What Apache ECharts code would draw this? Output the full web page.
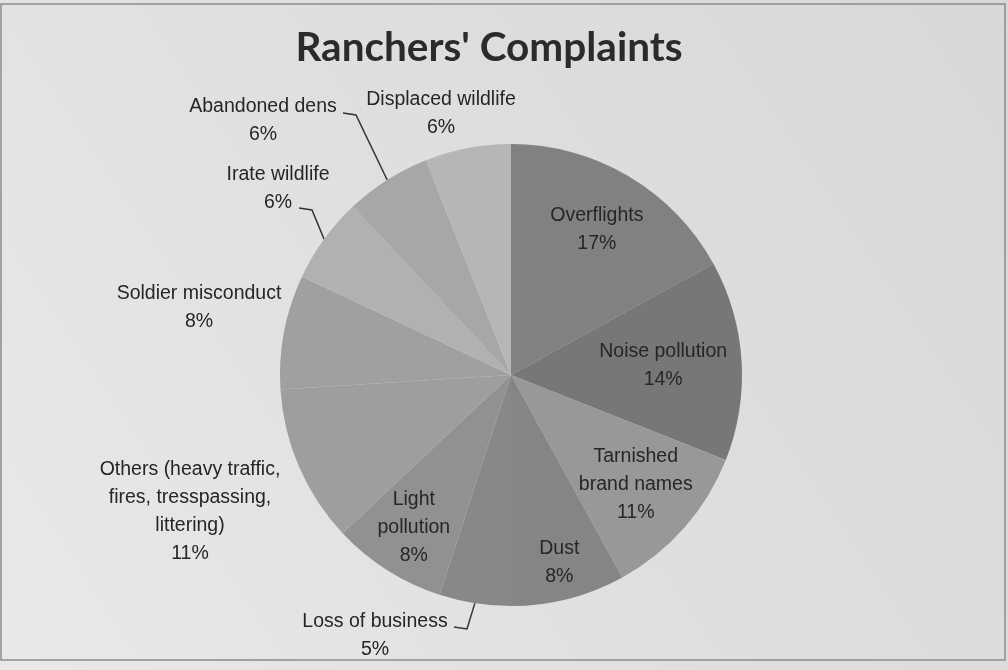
<!DOCTYPE html>
<html>
<head>
<meta charset="utf-8">
<script src="https://cdn.jsdelivr.net/npm/echarts@6/dist/echarts.min.js"></script>
<style>
  html, body { margin: 0; padding: 0; background: #e2e2e2; }
  #chart { width: 1008px; height: 670px; }
</style>
</head>
<body>
<div id="chart"></div>
<script>
// Complaint categories, clockwise from twelve o'clock
const categories = [
  'Overflights',
  'Noise pollution',
  'Tarnished\nbrand names',
  'Dust',
  'Loss of business',
  'Light\npollution',
  'Others (heavy traffic,\nfires, tresspassing,\nlittering)',
  'Soldier misconduct',
  'Irate wildlife',
  'Abandoned dens',
  'Displaced wildlife'
];
// Share of complaints, percent
const shares = [17, 14, 11, 8, 5, 8, 11, 8, 6, 6, 6];

// Grey shades of the slices
const sliceColors = ['#818181', '#777777', '#989898', '#858585', '#888888', '#919191',
                     '#9e9e9e', '#a0a0a0', '#b1b1b1', '#a7a7a7', '#b6b6b6'];

// Label placement: inner labels sit at a fraction of the radius along the slice's
// mid-angle; outer labels get a fixed spot, optionally with a leader line.
const PIE_CENTER = [511, 375];
const PIE_RADIUS = 231;
const labelSpots = [
  { inner: 0.73 },
  { inner: 0.66 },
  { inner: 0.72 },
  { inner: 0.84 },
  { x: 375, y: 636, lead: [79, -9] },
  { inner: 0.785 },
  { x: 190, y: 512 },
  { x: 199, y: 308 },
  { x: 278, y: 189, lead: [21, 19] },
  { x: 263, y: 121, lead: [80, -8] },
  { x: 441, y: 114 }
];

const pieData = categories.map((name, i) => {
  const spot = labelSpots[i];
  return {
    name: name,
    value: shares[i],
    itemStyle: { color: sliceColors[i] },
    label: { position: spot.inner ? 'inside' : 'outside' },
    labelLine: { show: !!spot.lead }
  };
});

const chart = echarts.init(document.getElementById('chart'), null, { renderer: 'canvas' });

chart.setOption({
  animation: false,
  backgroundColor: {
    type: 'linear', x: 1, y: 0, x2: 0, y2: 1,
    colorStops: [
      { offset: 0, color: '#d8d8d8' },
      { offset: 0.5, color: '#dfdfdf' },
      { offset: 1, color: '#e9e9e9' }
    ]
  },
  title: {
    text: "Ranchers' Complaints",
    left: 484,
    top: 22,
    textAlign: 'center',
    textStyle: {
      fontFamily: 'Lato',
      fontWeight: 'bold',
      fontSize: 40.5,
      color: '#2b2b2b'
    }
  },
  graphic: [
    {
      type: 'rect',
      silent: true,
      shape: { x: 1, y: 4, width: 1004, height: 656 },
      style: { fill: 'none', stroke: '#8c8c8c', lineWidth: 1.5 }
    }
  ],
  series: [
    {
      type: 'pie',
      center: PIE_CENTER,
      radius: PIE_RADIUS,
      startAngle: 90,
      clockwise: true,
      avoidLabelOverlap: false,
      silent: true,
      emphasis: { disabled: true },
      itemStyle: { borderWidth: 0 },
      label: {
        show: true,
        formatter: '{b}\n{c}%',
        fontFamily: 'Liberation Sans',
        fontSize: 19.5,
        lineHeight: 28,
        color: '#262626'
      },
      labelLine: {
        length: 12,
        length2: 10,
        lineStyle: { color: '#333333', width: 1.5 }
      },
      labelLayout: function (p) {
        const spot = labelSpots[p.dataIndex];
        if (spot.inner) {
          // push the default mid-radius label outward along the slice's bisector
          const r = p.labelRect;
          const cx = r.x + r.width / 2 - PIE_CENTER[0];
          const cy = r.y + r.height / 2 - PIE_CENTER[1];
          const d = Math.sqrt(cx * cx + cy * cy) || 1;
          const k = spot.inner * PIE_RADIUS / d;
          return {
            x: PIE_CENTER[0] + cx * k,
            y: PIE_CENTER[1] + cy * k,
            align: 'center',
            verticalAlign: 'middle'
          };
        }
        const out = { x: spot.x, y: spot.y, align: 'center', verticalAlign: 'middle' };
        if (spot.lead && p.labelLinePoints) {
          const edge = p.labelLinePoints[0];
          const start = [spot.x + spot.lead[0], spot.y + spot.lead[1]];
          const bend = [start[0] + 13, start[1] + 2];
          out.labelLinePoints = [edge, bend, start];
        }
        return out;
      },
      data: pieData
    }
  ]
});
</script>
</body>
</html>
